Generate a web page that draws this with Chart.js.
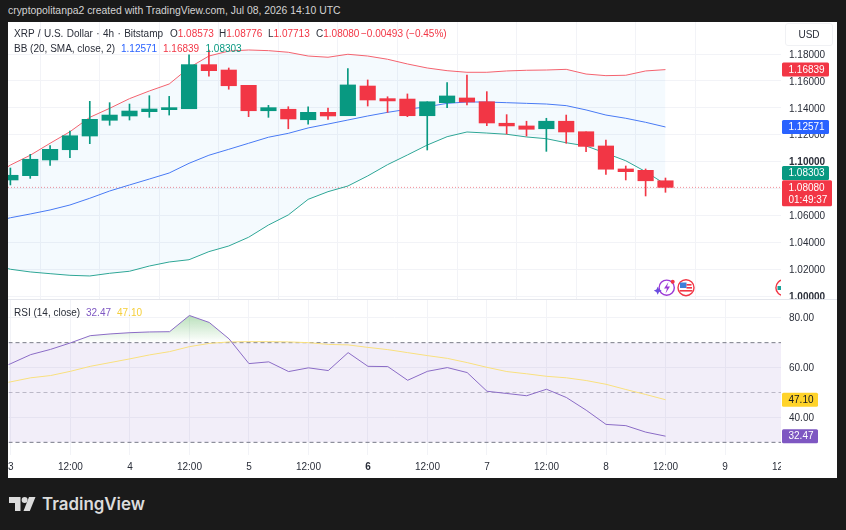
<!DOCTYPE html>
<html>
<head>
<meta charset="utf-8">
<title>XRP / U.S. Dollar</title>
<script src="https://cdn.jsdelivr.net/npm/chart.js@4/dist/chart.umd.min.js"></script>
<style>
  html, body { margin: 0; padding: 0; width: 846px; height: 530px; overflow: hidden; background: #1a1a1a; }
  body { position: relative; font-family: "Liberation Sans", Arial, sans-serif; }
  #frame { position: absolute; left: 8px; top: 22px; width: 829px; height: 456px; background: #fff; }
  canvas { position: absolute; left: 8px; }
  .t { position: absolute; white-space: nowrap; font-size: 10px; line-height: 12px; color: #2a2e39; }
  #byline { left: 8px; top: 4px; font-size: 10.4px; line-height: 14px; color: #d4d4d4; }
  #sep { position: absolute; left: 8px; top: 299px; width: 829px; height: 1px; background: #e4e6ec; }
  #usd { position: absolute; left: 785px; top: 23px; width: 48px; height: 23px; box-sizing: border-box; border: 1px solid #f0f1f4; border-radius: 3px; text-align: center; line-height: 22px; font-size: 10px; color: #2a2e39; }
  #brand { position: absolute; left: 42px; top: 492px; font-family: Inter, sans-serif; font-weight: 600; font-size: 16.9px; line-height: 24px; color: #dcdcdc; }
  svg { position: absolute; }
  .red { color: #f23645; } .blue { color: #2962ff; } .green { color: #089981; }
  .purple { color: #7e57c2; } .yellow { color: #f5cf3a; }
</style>
</head>
<body>
<div id="frame"></div>
<canvas id="priceChart" width="829" height="277" style="top:22px;width:829px;height:277px"></canvas>
<canvas id="rsiChart" width="829" height="179" style="top:299px;width:829px;height:179px"></canvas>
<div id="sep"></div>

<div class="t" id="byline">cryptopolitanpa2 created with TradingView.com, Jul 08, 2026 14:10 UTC</div>
<div id="usd">USD</div>

<div class="t" style="left:14px;top:28px;word-spacing:0.6px">XRP / U.S. Dollar · 4h · Bitstamp</div>
<div class="t" style="left:170px;top:28px">O<span class="red">1.08573</span></div>
<div class="t" style="left:219px;top:28px">H<span class="red">1.08776</span></div>
<div class="t" style="left:268px;top:28px">L<span class="red">1.07713</span></div>
<div class="t" style="left:316px;top:28px">C<span class="red">1.08080</span></div>
<div class="t red" style="left:361px;top:28px">−0.00493 (−0.45%)</div>
<div class="t" style="left:14px;top:43px">BB (20, SMA, close, 2)</div>
<div class="t blue" style="left:121px;top:43px">1.12571</div>
<div class="t red" style="left:163px;top:43px">1.16839</div>
<div class="t green" style="left:205.5px;top:43px">1.08303</div>
<div class="t" style="left:14px;top:307px">RSI (14, close)</div>
<div class="t purple" style="left:86px;top:307px">32.47</div>
<div class="t yellow" style="left:117px;top:307px">47.10</div>

<!-- event markers on the time axis -->
<svg style="left:654px;top:276px" width="44" height="24" viewBox="0 0 44 24">
  <circle cx="12.7" cy="11.7" r="7.6" fill="#fff" stroke="#9c39d6" stroke-width="1.4"/>
  <path d="M14.5 6 L10 12.5 H13 L11.5 17.5 L16 10.5 H13 Z" fill="#9c39d6"/>
  <path d="M3.7 10.7 L5 13.4 L7.7 14.7 L5 16 L3.7 18.7 L2.4 16 L-0.3 14.7 L2.4 13.4 Z" fill="#6a4de0"/>
  <circle cx="18.7" cy="5.7" r="2" fill="#f23645"/>
  <circle cx="32" cy="11.7" r="8" fill="#fff" stroke="#f23645" stroke-width="1.4"/>
  <rect x="26" y="6.5" width="6.5" height="5.5" fill="#3f7fd9"/>
  <rect x="32.5" y="8" width="5" height="1.6" fill="#f23645"/>
  <rect x="32.5" y="11" width="5.5" height="1.6" fill="#f23645"/>
  <rect x="25.5" y="14" width="13" height="1.6" fill="#f23645"/>
</svg>
<svg style="left:775px;top:279px" width="6" height="18" viewBox="0 0 6 18">
  <circle cx="8.7" cy="8.7" r="7.8" fill="#fff" stroke="#f23645" stroke-width="1.4"/>
  <rect x="2.5" y="7" width="4" height="4" fill="#1aa39a"/>
</svg>

<!-- wordmark in the footer -->
<svg style="left:9px;top:497px" width="27" height="14" viewBox="0 0 27 14" fill="#dcdcdc">
  <path d="M0 0 H11.5 V14 H6 V6 H0 Z"/>
  <circle cx="15.6" cy="3" r="3"/>
  <path d="M20 0 H26.5 L20.8 14 H14.5 Z"/>
</svg>
<div id="brand">TradingView</div>

<script>
// 4h candles, oldest first
const opens  = [1.0863, 1.0895, 1.1012, 1.1088, 1.1190, 1.1307, 1.1339, 1.1371, 1.1386, 1.1393, 1.1721, 1.1681, 1.1567, 1.1378, 1.1389, 1.1311, 1.1366, 1.1341, 1.1562, 1.1468, 1.1465, 1.1341, 1.1438, 1.1473, 1.1445, 1.1285, 1.1265, 1.1244, 1.1300, 1.1222, 1.1116, 1.0945, 1.0935, 1.08573];
const highs  = [1.0952, 1.1054, 1.1118, 1.1227, 1.1448, 1.1438, 1.1428, 1.1490, 1.1485, 1.1793, 1.1830, 1.1696, 1.1567, 1.1418, 1.1408, 1.1408, 1.1398, 1.1691, 1.1607, 1.1482, 1.1503, 1.1445, 1.1587, 1.1644, 1.1520, 1.1349, 1.1300, 1.1322, 1.1346, 1.1222, 1.1160, 1.0967, 1.0945, 1.08776];
const lows   = [1.0826, 1.0875, 1.0972, 1.1029, 1.1133, 1.1270, 1.1309, 1.1329, 1.1346, 1.1393, 1.1636, 1.1538, 1.1334, 1.1329, 1.1244, 1.1279, 1.1314, 1.1341, 1.1413, 1.1366, 1.1334, 1.1086, 1.1401, 1.1421, 1.1267, 1.1205, 1.1190, 1.1076, 1.1136, 1.1073, 1.0905, 1.0863, 1.0744, 1.07713];
const closes = [1.0898, 1.1017, 1.1091, 1.1192, 1.1314, 1.1346, 1.1376, 1.1391, 1.1401, 1.1721, 1.1676, 1.1564, 1.1378, 1.1401, 1.1317, 1.1366, 1.1339, 1.1570, 1.1458, 1.1451, 1.1341, 1.1445, 1.1488, 1.1443, 1.1287, 1.1265, 1.1240, 1.1300, 1.1220, 1.1113, 1.0943, 1.0925, 1.0857, 1.08080];

// indicator lines start one bar before the first visible candle
const bbUpper = [1.0878, 1.0974, 1.1047, 1.1136, 1.1222, 1.1329, 1.1396, 1.1468, 1.1525, 1.1577, 1.1698, 1.1785, 1.1822, 1.1830, 1.1825, 1.1813, 1.1785, 1.1776, 1.1798, 1.1785, 1.1761, 1.1726, 1.1696, 1.1676, 1.1664, 1.1664, 1.1674, 1.1679, 1.1681, 1.1686, 1.1651, 1.1639, 1.1642, 1.1674, 1.16839];
const bbBasis = [1.0545, 1.0582, 1.0610, 1.0640, 1.0677, 1.0727, 1.0781, 1.0826, 1.0870, 1.0915, 1.0987, 1.1047, 1.1091, 1.1136, 1.1181, 1.1210, 1.1250, 1.1279, 1.1309, 1.1339, 1.1366, 1.1389, 1.1408, 1.1433, 1.1443, 1.1443, 1.1438, 1.1433, 1.1428, 1.1416, 1.1384, 1.1346, 1.1322, 1.1292, 1.12571];
const bbLower = [1.0238, 1.0199, 1.0179, 1.0166, 1.0154, 1.0149, 1.0169, 1.0184, 1.0223, 1.0253, 1.0270, 1.0330, 1.0372, 1.0437, 1.0528, 1.0603, 1.0719, 1.0776, 1.0818, 1.0893, 1.0977, 1.1049, 1.1123, 1.1185, 1.1220, 1.1212, 1.1203, 1.1183, 1.1170, 1.1140, 1.1116, 1.1062, 1.1006, 1.0925, 1.08303];
const rsiValues = [58.3, 61.6, 65.2, 67.3, 69.9, 72.8, 73.5, 74.0, 74.3, 74.4, 80.9, 78.1, 71.5, 61.6, 62.3, 58.4, 59.9, 58.8, 66.0, 60.5, 60.4, 54.9, 58.5, 60.0, 58.0, 50.5, 49.6, 48.7, 51.3, 48.0, 42.9, 37.2, 36.7, 34.1, 32.47];
const rsiMa     = [52.7, 54.3, 55.9, 56.8, 58.5, 60.5, 62.0, 63.5, 65.1, 66.4, 68.4, 69.7, 70.3, 70.4, 70.4, 70.3, 70.0, 69.3, 69.1, 68.1, 67.2, 66.0, 64.8, 63.7, 62.0, 60.1, 58.4, 57.5, 56.5, 55.9, 54.8, 53.3, 51.2, 49.2, 47.10];

const lastPrice = 1.0808;
const priceTicks = [1.00, 1.02, 1.04, 1.06, 1.08, 1.10, 1.12, 1.14, 1.16, 1.18];
const hiddenPriceTick = 1.08;
const rsiTicks = [40, 60, 80];
const rsiLevels = [70, 50, 30];
// one label every third bar
const timeLabels = ['3', '12:00', '4', '12:00', '5', '12:00', '6', '12:00', '7', '12:00', '8', '12:00', '9', '12:00'];

const UP = '#089981', DOWN = '#f23645', BLUE = '#2962ff', PURPLE = '#7e57c2', YELLOW = '#f9e07e';
const GRID = '#f2f3f7', TEXT = '#2a2e39', FONT = '"Liberation Sans", Arial, sans-serif';
const xMin = -0.12, xMax = 38.82;
const AXIS_W = 56;

Chart.defaults.font.family = FONT;
Chart.defaults.font.size = 10;
Chart.defaults.color = TEXT;

const linePts = arr => arr.map((v, i) => ({ x: i - 1, y: v }));
const flat = (y) => [{ x: xMin, y }, { x: xMax, y }];
const candleColors = opens.map((o, i) => closes[i] >= o ? UP : DOWN);

function line(label, data, color, extra) {
    return Object.assign({
        type: 'line', label, data, borderColor: color, borderWidth: 1,
        pointRadius: 0, tension: 0, fill: false, order: 5
    }, extra);
}

// labels would otherwise make the layout pull the plot area in
function noPadding(s) {
    s.paddingLeft = s.paddingRight = s.paddingTop = s.paddingBottom = 0;
}

// shared x axis: bar index with a tick on every third bar
function xAxis(showLabels) {
    return {
        type: 'linear', min: xMin, max: xMax, offset: false,
        afterBuildTicks: s => { s.ticks = timeLabels.map((_, i) => ({ value: i * 3 })); },
        afterFit: s => { s.height = showLabels ? 23 : 0; noPadding(s); },
        border: { display: false },
        grid: {
            drawTicks: false,
            color: c => c.tick && c.tick.value > xMax ? 'transparent' : GRID
        },
        ticks: {
            display: showLabels, padding: 6, maxRotation: 0, autoSkip: false,
            callback: (v, i) => timeLabels[i],
            font: c => ({ size: 10, weight: c.tick && c.tick.label === '6' ? 'bold' : 'normal' })
        }
    };
}

function yAxis(min, max, ticks, fmt, isBold) {
    return {
        position: 'right', min, max,
        afterBuildTicks: s => { s.ticks = ticks.map(value => ({ value })); },
        afterFit: s => { s.width = AXIS_W; noPadding(s); },
        border: { display: false },
        grid: { drawTicks: false, color: GRID },
        ticks: {
            padding: 8, color: TEXT, labelOffset: 1,
            callback: fmt,
            font: c => ({ size: 10, weight: c.tick && isBold(c.tick.value) ? 'bold' : 'normal' })
        }
    };
}

// coloured value tag on the right axis, optionally with a second line
function drawTag(chart, value, color, text, opts) {
    const o = Object.assign({ w: 47, h: 14, dy: 0, ink: '#fff', sub: null }, opts);
    const { ctx, chartArea, scales } = chart;
    const cy = scales.y.getPixelForValue(value) + o.dy;
    const top = o.sub ? cy - 7 : cy - o.h / 2;
    const left = chartArea.right + 1;
    ctx.save();
    ctx.fillStyle = color;
    ctx.beginPath();
    ctx.roundRect(left, top, o.w, o.h, 1.5);
    ctx.fill();
    ctx.fillStyle = o.ink;
    ctx.font = '10px ' + FONT;
    ctx.textBaseline = 'middle';
    ctx.fillText(text, left + 6.5, top + 7.5);
    if (o.sub) ctx.fillText(o.sub, left + 6.5, top + 19.5);
    ctx.restore();
}

const priceTags = {
    id: 'priceTags',
    afterDraw(chart) {
        drawTag(chart, bbUpper[bbUpper.length - 1], DOWN, '1.16839');
        drawTag(chart, bbBasis[bbBasis.length - 1], BLUE, '1.12571');
        drawTag(chart, bbLower[bbLower.length - 1], UP, '1.08303', { dy: -11.3 });
        drawTag(chart, lastPrice, DOWN, '1.08080', { w: 50, h: 26, sub: '01:49:37' });
    }
};

const rsiTags = {
    id: 'rsiTags',
    afterDraw(chart) {
        const { ctx, chartArea } = chart;
        // the last time label is cut by the price axis column
        ctx.fillStyle = '#fff';
        ctx.fillRect(chartArea.right, chartArea.bottom, AXIS_W, chart.height - chartArea.bottom - 1);
        drawTag(chart, rsiMa[rsiMa.length - 1], '#ffd32a', '47.10', { w: 36, ink: '#131722' });
        drawTag(chart, rsiValues[rsiValues.length - 1], PURPLE, '32.47', { w: 36 });
    }
};

new Chart(document.getElementById('priceChart'), {
    type: 'bar',
    data: {
        datasets: [
            { label: 'Body', data: opens.map((o, i) => ({ x: i, y: [o, closes[i]] })), backgroundColor: candleColors, barThickness: 15.5, grouped: false, order: 0 },
            { label: 'Wick', data: lows.map((l, i) => ({ x: i, y: [l, highs[i]] })), backgroundColor: candleColors, barThickness: 1, grouped: false, order: 1 },
            line('BB upper', linePts(bbUpper), '#f4626e', { fill: '+2', backgroundColor: 'rgba(33,150,243,0.05)' }),
            line('BB basis', linePts(bbBasis), '#4a78f5'),
            line('BB lower', linePts(bbLower), '#2fa794'),
            line('Last price', flat(lastPrice), '#f28d96', { borderDash: [1, 2], order: 6 })
        ]
    },
    plugins: [priceTags],
    options: {
        responsive: false, animation: false,
        layout: { padding: 0 },
        plugins: { legend: { display: false }, tooltip: { enabled: false } },
        scales: {
            x: xAxis(false),
            y: yAxis(0.99777, 1.20381, priceTicks,
                v => v === hiddenPriceTick ? '' : v.toFixed(5),
                v => v === 1.10 || v === 1.00)
        }
    }
});

const rsiChart = new Chart(document.getElementById('rsiChart'), {
    type: 'line',
    data: {
        datasets: [
            line('RSI', linePts(rsiValues), '#8b6cc6', { fill: { target: { value: 70 }, above: 'rgba(76,175,80,0.3)', below: 'transparent' }, order: 0 }),
            line('RSI MA', linePts(rsiMa), YELLOW, { order: 1 }),
            line('Upper level', flat(rsiLevels[0]), '#787b86', { borderDash: [4, 3], fill: '+2', backgroundColor: 'rgba(126,87,194,0.1)' }),
            line('Middle level', flat(rsiLevels[1]), 'rgba(120,123,134,0.45)', { borderDash: [4, 3] }),
            line('Lower level', flat(rsiLevels[2]), '#787b86', { borderDash: [4, 3] })
        ]
    },
    plugins: [rsiTags],
    options: {
        responsive: false, animation: false,
        layout: { padding: 0 },
        plugins: { legend: { display: false }, tooltip: { enabled: false } },
        scales: {
            x: xAxis(true),
            y: yAxis(24.92, 87.32, rsiTicks, v => v.toFixed(2), () => false)
        }
    }
});

// overbought fill fades out towards the 70 level
const yr = rsiChart.scales.y;
const fade = rsiChart.ctx.createLinearGradient(0, yr.getPixelForValue(81), 0, yr.getPixelForValue(70));
fade.addColorStop(0, 'rgba(76,175,80,0.4)');
fade.addColorStop(1, 'rgba(76,175,80,0)');
rsiChart.data.datasets[0].fill.above = fade;
rsiChart.update('none');
</script>
</body>
</html>
